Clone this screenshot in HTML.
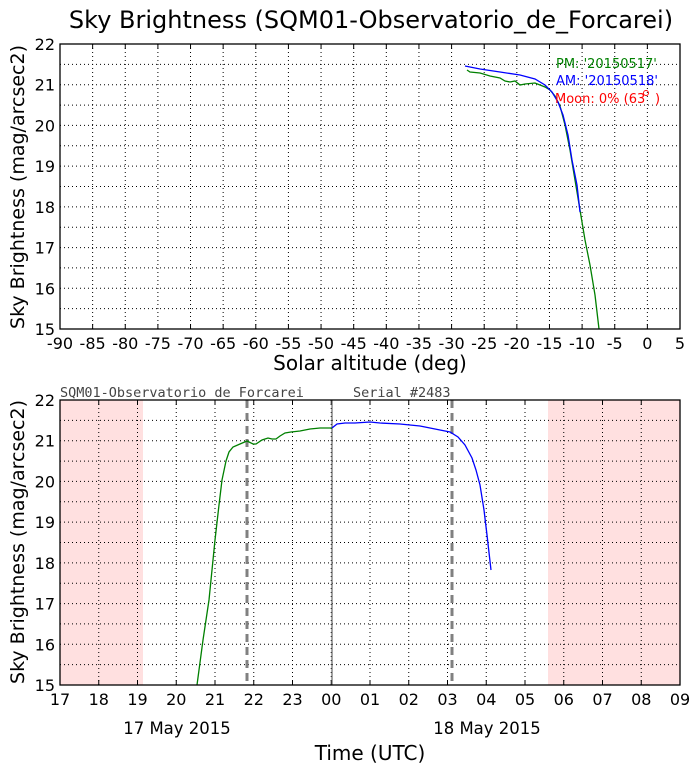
<!DOCTYPE html>
<html><head><meta charset="utf-8">
<style>
html,body{margin:0;padding:0;background:#fff;width:699px;height:773px;overflow:hidden}
svg text{font-family:"DejaVu Sans","Liberation Sans",sans-serif}
</style></head><body>
<svg id="s" width="699" height="773" xmlns="http://www.w3.org/2000/svg"></svg>
<script>
const s=document.getElementById('s');let h='';
const L=60,R=680,T1=44,B1=329,T2=400,B2=685;
h+=`<text x="371" y="28" font-size="24" text-anchor="middle">Sky Brightness (SQM01-Observatorio_de_Forcarei)</text>`;
function yg(T,B){let o='';for(let i=1;i<14;i++){const y=T+(B-T)*i/14;o+=`<line x1="${L}" x2="${R}" y1="${y}" y2="${y}" stroke="#000" stroke-width="1" stroke-dasharray="1,3"/>`;}return o;}
h+=yg(T1,B1);
for(let i=1;i<19;i++){const x=L+(R-L)*i/19;h+=`<line x1="${x}" x2="${x}" y1="${T1}" y2="${B1}" stroke="#000" stroke-dasharray="1,3"/>`;}
for(let i=0;i<=19;i++){const x=L+(R-L)*i/19;h+=`<text x="${x}" y="${B1+20}" font-size="16" text-anchor="middle">${-90+5*i}</text>`;h+=`<line x1="${x}" x2="${x}" y1="${B1}" y2="${B1-5}" stroke="#000"/><line x1="${x}" x2="${x}" y1="${T1}" y2="${T1+5}" stroke="#000"/>`;}
for(let i=0;i<=7;i++){const y=B1-(B1-T1)*i/7;h+=`<text x="${L-5}" y="${y+6}" font-size="16" text-anchor="end">${15+i}</text>`;}
h+=`<polyline fill="none" stroke="#008000" stroke-width="1.3" points="467,70 470,72 480,73 490,76 500,78 505,81 510,82 515,81 520,85 525,84 535,83 540,85 545,87 550,90 555,96 560,106 565,125 570,150 575,180 580,210 585,240 590,265 595,295 599,329"/>`;
h+=`<polyline fill="none" stroke="#0000ff" stroke-width="1.3" points="465,66 470,67 480,69 500,72 520,75 535,79 545,85 552,92 558,102 563,115 568,135 572,160 577,185 580,212"/>`;
h+=`<text x="556" y="68" font-size="13" fill="#008000">PM: '20150517'</text>`;
h+=`<text x="556" y="85" font-size="13" fill="#0000ff">AM: '20150518'</text>`;
h+=`<text x="555" y="103" font-size="13" fill="#ff0000">Moon: 0% (63</text>`;
h+=`<circle cx="646" cy="93" r="2.5" fill="none" stroke="#ff0000" stroke-width="0.9"/>`;
h+=`<text x="655" y="103" font-size="13" fill="#ff0000">)</text>`;
h+=`<rect x="${L}" y="${T1}" width="${R-L}" height="${B1-T1}" fill="none" stroke="#000" stroke-width="1.3"/>`;
h+=`<text x="370" y="370" font-size="20" text-anchor="middle">Solar altitude (deg)</text>`;
h+=`<text transform="translate(24,187) rotate(-90)" font-size="19" text-anchor="middle">Sky Brightness (mag/arcsec2)</text>`;
h+=`<rect x="${L}" y="${T2}" width="83" height="${B2-T2}" fill="#ffe0e0"/><rect x="548" y="${T2}" width="${R-548}" height="${B2-T2}" fill="#ffe0e0"/>`;
h+=yg(T2,B2);
const lab=['17','18','19','20','21','22','23','00','01','02','03','04','05','06','07','08','09'];
for(let i=0;i<=16;i++){const x=L+(R-L)*i/16;if(i>0&&i<16)h+=`<line x1="${x}" x2="${x}" y1="${T2}" y2="${B2}" stroke="#000" stroke-dasharray="1,3"/>`;h+=`<text x="${x}" y="${B2+20}" font-size="16" text-anchor="middle">${lab[i]}</text><line x1="${x}" x2="${x}" y1="${B2}" y2="${B2-5}" stroke="#000"/><line x1="${x}" x2="${x}" y1="${T2}" y2="${T2+5}" stroke="#000"/>`;}
for(let i=0;i<=7;i++){const y=B2-(B2-T2)*i/7;h+=`<text x="${L-5}" y="${y+6}" font-size="16" text-anchor="end">${15+i}</text>`;}
h+=`<line x1="332" x2="332" y1="${T2}" y2="${B2}" stroke="#666" stroke-width="1.2"/>`;
h+=`<line x1="247" x2="247" y1="${T2}" y2="${B2}" stroke="#808080" stroke-width="3" stroke-dasharray="8,5"/>`;
h+=`<line x1="452" x2="452" y1="${T2}" y2="${B2}" stroke="#808080" stroke-width="3" stroke-dasharray="8,5"/>`;
h+=`<polyline fill="none" stroke="#008000" stroke-width="1.3" points="197,685 203,640 209,600 215,540 219,505 222,480 226,461 229,452 233,447 240,444 247,441 253,444 256,444 262,440 268,438 272,439 276,439 280,436 285,433 291,432 300,431 310,429 320,428 332,428"/>`;
h+=`<polyline fill="none" stroke="#0000ff" stroke-width="1.3" points="332,428 337,424 345,423 355,423 370,422 380,423 400,424 420,426 440,430 450,432 458,437 465,445 472,458 476,470 480,485 484,510 487,535 491,570"/>`;
h+=`<rect x="${L}" y="${T2}" width="${R-L}" height="${B2-T2}" fill="none" stroke="#000" stroke-width="1.3"/>`;
h+=`<text x="60" y="397" font-size="13.5" fill="#444" style="font-family:'DejaVu Sans Mono','Liberation Mono',monospace">SQM01-Observatorio de Forcarei</text>`;
h+=`<text x="353" y="397" font-size="13.5" fill="#444" style="font-family:'DejaVu Sans Mono','Liberation Mono',monospace">Serial #2483</text>`;
h+=`<text x="177" y="734" font-size="16.5" text-anchor="middle">17 May 2015</text>`;
h+=`<text x="487" y="734" font-size="16.5" text-anchor="middle">18 May 2015</text>`;
h+=`<text x="370" y="760" font-size="20" text-anchor="middle">Time (UTC)</text>`;
h+=`<text transform="translate(24,542) rotate(-90)" font-size="19" text-anchor="middle">Sky Brightness (mag/arcsec2)</text>`;
s.innerHTML=h;
</script>
</body></html>
